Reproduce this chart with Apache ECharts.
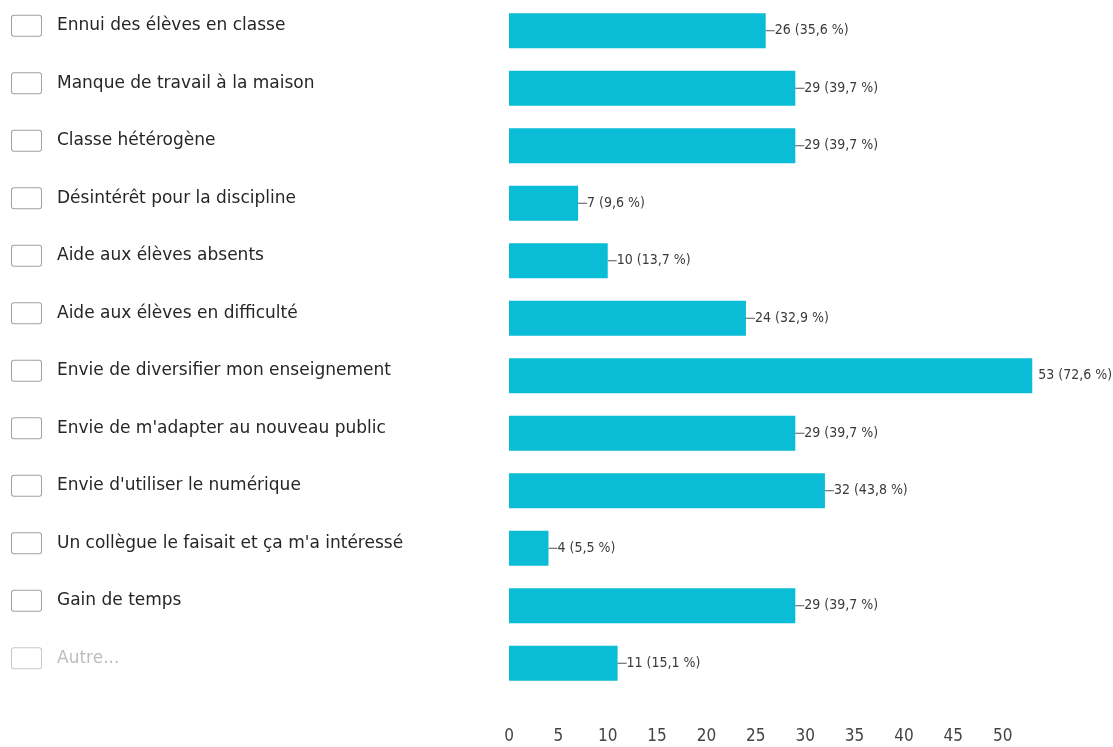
<!DOCTYPE html>
<html>
<head>
<meta charset="utf-8">
<script src="https://cdn.jsdelivr.net/npm/echarts@6/dist/echarts.min.js"></script>
<style>
html,body{margin:0;padding:0;background:#fff;}
#c{width:1113px;height:747px;}
</style>
</head>
<body>
<div id="c"></div>
<script>
const categories = [
  "Ennui des élèves en classe",
  "Manque de travail à la maison",
  "Classe hétérogène",
  "Désintérêt pour la discipline",
  "Aide aux élèves absents",
  "Aide aux élèves en difficulté",
  "Envie de diversifier mon enseignement",
  "Envie de m'adapter au nouveau public",
  "Envie d'utiliser le numérique",
  "Un collègue le faisait et ça m'a intéressé",
  "Gain de temps",
  "Autre..."
];
const counts = [26, 29, 29, 7, 10, 24, 53, 29, 32, 4, 29, 11];
const percents = ["35,6", "39,7", "39,7", "9,6", "13,7", "32,9", "72,6", "39,7", "43,8", "5,5", "39,7", "15,1"];
const tickLabels = ["0", "5", "10", "15", "20", "25", "30", "35", "40", "45", "50"];

const narrow = "'DejaVu Sans Condensed', 'Liberation Sans Narrow', sans-serif";

const chart = echarts.init(document.getElementById('c'), null, {renderer: 'canvas'});
chart.setOption({
  animation: false,
  backgroundColor: '#ffffff',
  grid: {left: 509, right: 61, top: 2, height: 690, containLabel: false},
  xAxis: {
    type: 'value', min: 0, max: 55, interval: 5,
    axisLine: {show: false}, axisTick: {show: false}, splitLine: {show: false},
    axisLabel: {
      margin: 36, color: '#444', fontSize: 17, fontFamily: narrow,
      formatter: function (v) { const i = Math.round(v / 5); return i < tickLabels.length ? tickLabels[i] : ''; }
    }
  },
  yAxis: {
    type: 'category', data: categories, inverse: true,
    axisLine: {show: false}, axisTick: {show: false}, splitLine: {show: false},
    axisLabel: {
      align: 'left', margin: 497, padding: [0, 0, 10, 0],
      formatter: function (v) {
        if (v === 'Autre...') return '{boxG|}{tG|' + v + '}';
        return '{box|}{t|' + v + '}';
      },
      rich: {
        box: {width: 29, height: 20, borderColor: '#a0a0a0', borderWidth: 1, borderRadius: 2, backgroundColor: '#fff'},
        boxG: {width: 29, height: 20, borderColor: '#c8c8c8', borderWidth: 1, borderRadius: 2, backgroundColor: '#fff'},
        t: {padding: [0, 0, 0, 16], fontSize: 17, color: '#262626', fontFamily: "'DejaVu Sans', sans-serif"},
        tG: {padding: [0, 0, 0, 16], fontSize: 17, color: '#bdbdbd', fontFamily: "'DejaVu Sans', sans-serif"}
      }
    }
  },
  series: [{
    type: 'bar', data: counts, barWidth: 35,
    itemStyle: {color: '#0bbcd6'},
    label: {
      show: true, position: 'right', distance: 0,
      formatter: function (p) {
        const txt = p.value + ' (' + percents[p.dataIndex] + ' %)';
        if (p.value === 53) return '{gap|}{v|' + txt + '}';
        return '{ln|}{v|' + txt + '}';
      },
      rich: {
        ln: {width: 9, height: 1, backgroundColor: '#555'},
        gap: {width: 6, height: 1},
        v: {fontSize: 14, color: '#3a3a3a', fontFamily: narrow}
      }
    }
  }]
});
</script>
</body>
</html>
